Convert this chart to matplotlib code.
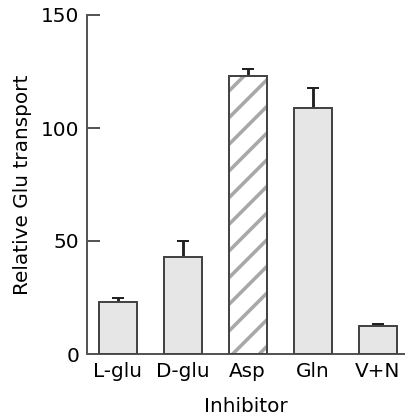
import numpy as np
import matplotlib
matplotlib.use("Agg")
import matplotlib.pyplot as plt

# ---------------------------------------------------------------------------
# Data
# ---------------------------------------------------------------------------
inhibitors = ["L-glu", "D-glu", "Asp", "Gln", "V+N"]
transport  = [23.0, 43.0, 123.0, 109.0, 12.5]
sem_upper  = [2.0, 7.0, 3.0, 8.5, 0.8]
hatched    = [False, False, True, False, False]
yticks     = [0, 50, 100, 150]

# ---------------------------------------------------------------------------
# Style
# ---------------------------------------------------------------------------
DPI       = 80
FSIZE     = 18
EDGE      = "#444444"
FILL      = "#e6e6e6"
HATCH_COL = "#a8a8a8"

plt.rcParams["font.family"] = "DejaVu Sans"
plt.rcParams["hatch.linewidth"] = 3.2

fig = plt.figure(figsize=(405 / DPI, 417 / DPI), dpi=DPI)
ax = fig.add_axes([87 / 405, 63 / 417, 318 / 405, 339 / 417])

x = np.arange(len(inhibitors))
width = 0.585

for xi, val, h in zip(x, transport, hatched):
    if h:
        ax.bar(xi, val, width, color="white", edgecolor=HATCH_COL,
               hatch="/", linewidth=0, zorder=2)
        ax.bar(xi, val, width, fill=False, edgecolor=EDGE,
               linewidth=1.8, zorder=3)
    else:
        ax.bar(xi, val, width, color=FILL, edgecolor=EDGE,
               linewidth=1.8, zorder=3)

ax.errorbar(x, transport, yerr=[np.zeros(len(x)), sem_upper],
            fmt="none", ecolor="#222222", elinewidth=2.6,
            capsize=5.4, capthick=1.8, zorder=2)

ax.set_xlim(-0.47, 4.42)
ax.set_ylim(0, 150)
ax.set_xticks(x)
ax.set_xticklabels(inhibitors)
ax.set_yticks(yticks)

for side in ["top", "right"]:
    ax.spines[side].set_visible(False)
for side in ["left", "bottom"]:
    ax.spines[side].set_color("#555555")
    ax.spines[side].set_linewidth(1.8)

ax.tick_params(axis="y", direction="in", length=11.7, width=1.8,
               color="#555555", labelsize=FSIZE, pad=7)
ax.tick_params(axis="x", length=0, labelsize=FSIZE, pad=7)

ax.set_xlabel("Inhibitor", fontsize=FSIZE, labelpad=14.5)
ax.set_ylabel("Relative Glu transport", fontsize=FSIZE, labelpad=8)

fig.savefig("out.png", dpi=DPI)
